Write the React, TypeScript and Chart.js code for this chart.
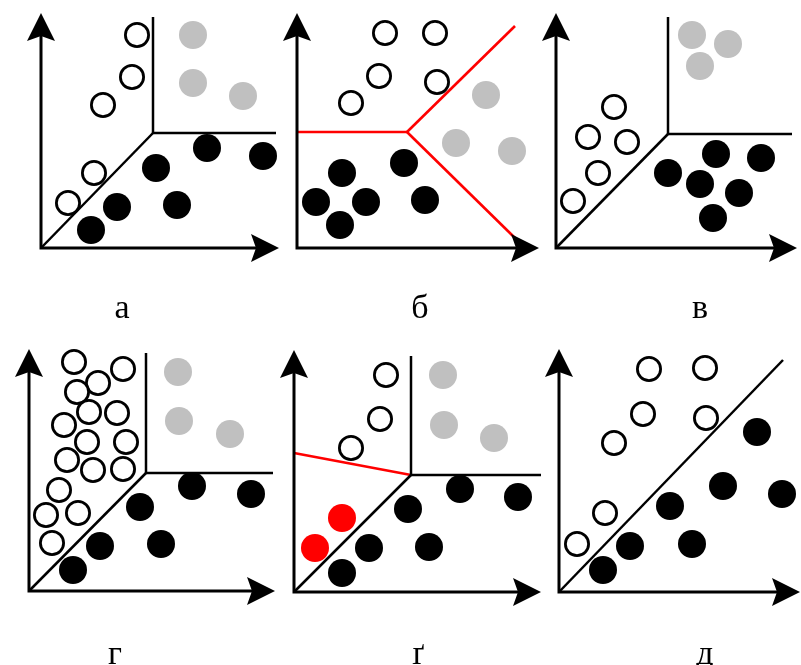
import React, { useEffect, useRef } from "react";
import { Chart, registerables } from "chart.js";

Chart.register(...registerables);

const W = 801;
const H = 665;

type P = [number, number];

// ---- panel а ----
const aWhite: P[] = [[137, 35], [132, 77], [103, 105], [94, 173], [68, 203]];
const aGrey: P[] = [[193, 35], [193, 83], [243, 96]];
const aBlack: P[] = [[207, 148], [263, 156], [156, 168], [117, 207], [177, 205], [91, 230]];
// ---- panel б ----
const bWhite: P[] = [[385, 33], [435, 33], [379, 76], [437, 82], [351, 103]];
const bGrey: P[] = [[486, 95], [456, 143], [512, 151]];
const bBlack: P[] = [[404, 163], [342, 173], [316, 202], [366, 202], [425, 200], [340, 225]];
// ---- panel в ----
const vWhite: P[] = [[614, 107], [588, 137], [627, 142], [598, 173], [573, 201]];
const vGrey: P[] = [[692, 35], [728, 44], [700, 66]];
const vBlack: P[] = [[716, 154], [761, 158], [668, 173], [700, 184], [739, 193], [713, 218]];
// ---- panel г ----
const gWhite: P[] = [
  [74, 362], [123, 369], [98, 383], [77, 392], [89, 412], [117, 413], [64, 425], [87, 442],
  [126, 442], [67, 460], [93, 470], [123, 469], [59, 490], [46, 515], [78, 513], [52, 543],
];
const gGrey: P[] = [[178, 372], [179, 421], [230, 434]];
const gBlack: P[] = [[192, 486], [251, 494], [140, 507], [100, 546], [161, 544], [73, 570]];
// ---- panel ґ ----
const g2White: P[] = [[386, 375], [380, 419], [351, 448]];
const g2Grey: P[] = [[443, 375], [444, 425], [494, 438]];
const g2Red: P[] = [[342, 518], [315, 548]];
const g2Black: P[] = [[460, 489], [518, 497], [408, 509], [369, 548], [429, 547], [342, 573]];
// ---- panel д ----
const dWhite: P[] = [[649, 369], [705, 368], [643, 414], [706, 418], [614, 443], [605, 513], [577, 544]];
const dBlack: P[] = [[757, 432], [723, 486], [782, 494], [670, 506], [630, 546], [692, 544], [603, 570]];

// axes: [originX, originY, yArrowTipY, xArrowTipX]
const axes: number[][] = [
  [41, 248, 13, 279],
  [297, 248, 13, 539],
  [556, 248, 13, 797],
  [29, 591, 349, 275],
  [294, 592, 350, 541],
  [559, 592, 349, 800],
];

// black boundary segments [x1, y1, x2, y2]
const blackSegments: number[][] = [
  [41, 248, 153, 133], [153, 133, 153, 17], [153, 133, 276, 133],
  [556, 248, 668, 134], [668, 134, 668, 17], [668, 134, 792, 134],
  [29, 591, 146, 473], [146, 473, 146, 353], [146, 473, 273, 473],
  [294, 592, 411, 475], [411, 475, 411, 356], [411, 475, 541, 475],
  [559, 592, 783, 360],
];

// red boundary segments
const redSegments: number[][] = [
  [298, 132, 407, 132], [407, 132, 515, 26], [407, 132, 515, 238],
  [294, 453, 411, 475],
];

const panelLabels = ["а", "б", "в", "г", "ґ", "д"];
const labelX = [122, 420, 700, 115, 418, 705];
const labelY = [318, 318, 318, 664, 664, 664];

const ARROW_LEN = 28;
const ARROW_HALF = 14;
const ARROW_NOTCH = 5;

const toXY = (pts: P[]) => pts.map(([x, y]) => ({ x, y }));

function circles(pts: P[], fill: string, border: string, r: number, bw: number) {
  return {
    data: toXY(pts),
    showLine: false,
    pointRadius: r,
    pointHoverRadius: r,
    pointBackgroundColor: fill,
    pointBorderColor: border,
    pointBorderWidth: bw,
    pointHoverBorderWidth: bw,
    clip: false,
  };
}

function segment(s: number[], color: string, width: number) {
  return {
    data: [{ x: s[0], y: s[1] }, { x: s[2], y: s[3] }],
    showLine: true,
    borderColor: color,
    borderWidth: width,
    pointRadius: 0,
    pointHoverRadius: 0,
    tension: 0,
    borderCapStyle: "butt",
    clip: false,
  };
}

function axisLine(a: number[]) {
  const [ox, oy, ty, tx] = a;
  const back = ARROW_LEN - ARROW_NOTCH - 2;
  return {
    data: [
      { x: ox, y: ty + back },
      { x: ox, y: oy },
      { x: tx - back, y: oy },
    ],
    showLine: true,
    borderColor: "#000",
    borderWidth: 3,
    pointRadius: 0,
    pointHoverRadius: 0,
    tension: 0,
    borderJoinStyle: "miter",
    borderCapStyle: "butt",
    clip: false,
  };
}

const arrowPlugin = {
  id: "arrowHeads",
  afterDatasetsDraw(chart: any) {
    const ctx = chart.ctx;
    const xs = chart.scales.x;
    const ys = chart.scales.y;
    const draw = (tx: number, ty: number, dx: number, dy: number) => {
      const nx = -dy;
      const ny = dx;
      ctx.beginPath();
      ctx.moveTo(tx, ty);
      ctx.lineTo(tx - ARROW_LEN * dx + ARROW_HALF * nx, ty - ARROW_LEN * dy + ARROW_HALF * ny);
      ctx.lineTo(tx - (ARROW_LEN - ARROW_NOTCH) * dx, ty - (ARROW_LEN - ARROW_NOTCH) * dy);
      ctx.lineTo(tx - ARROW_LEN * dx - ARROW_HALF * nx, ty - ARROW_LEN * dy - ARROW_HALF * ny);
      ctx.closePath();
      ctx.fill();
    };
    ctx.save();
    ctx.fillStyle = "#000";
    axes.forEach(([ox, oy, ty, tx]) => {
      const px = xs.getPixelForValue(ox);
      draw(px, ys.getPixelForValue(ty), 0, -1);
      draw(xs.getPixelForValue(tx), ys.getPixelForValue(oy), 1, 0);
    });
    ctx.restore();
  },
};

const labelPlugin = {
  id: "panelLabels",
  afterDraw(chart: any) {
    const ctx = chart.ctx;
    const xs = chart.scales.x;
    const ys = chart.scales.y;
    ctx.save();
    ctx.fillStyle = "#000";
    ctx.font = '34px "Liberation Serif", "DejaVu Serif", serif';
    ctx.textAlign = "center";
    ctx.textBaseline = "alphabetic";
    panelLabels.forEach((t, i) => {
      ctx.fillText(t, xs.getPixelForValue(labelX[i]), ys.getPixelForValue(labelY[i]));
    });
    ctx.restore();
  },
};

export default function App() {
  const ref = useRef<HTMLCanvasElement | null>(null);

  useEffect(() => {
    document.body.style.margin = "0";
    const canvas = ref.current;
    if (!canvas) return;

    const WHITE_R = 11.6;
    const WHITE_BW = 2.8;
    const FILL_R = 14;
    const grey = "#c0c0c0";

    const lineSets: any[] = [
      ...axes.map(axisLine),
      ...blackSegments.map((s) => segment(s, "#000", 2.5)),
      ...redSegments.map((s) => segment(s, "#ff0000", 2.6)),
    ];

    const whites = [aWhite, bWhite, vWhite, gWhite, g2White, dWhite];
    const greys = [aGrey, bGrey, vGrey, gGrey, g2Grey];
    const blacks = [aBlack, bBlack, vBlack, gBlack, g2Black, dBlack];

    const pointSets: any[] = [
      ...whites.map((p) => circles(p, "#ffffff", "#000000", WHITE_R, WHITE_BW)),
      ...greys.map((p) => circles(p, grey, grey, FILL_R, 0)),
      ...blacks.map((p) => circles(p, "#000000", "#000000", FILL_R, 0)),
      circles(g2Red, "#ff0000", "#ff0000", FILL_R, 0),
    ];

    const chart = new Chart(canvas, {
      type: "scatter",
      data: { datasets: [...lineSets, ...pointSets] },
      options: {
        animation: false,
        responsive: false,
        maintainAspectRatio: false,
        events: [],
        layout: { padding: 0, autoPadding: false },
        plugins: {
          legend: { display: false },
          tooltip: { enabled: false },
          title: { display: false },
        },
        scales: {
          x: { type: "linear", min: 0, max: W, display: false },
          y: { type: "linear", min: 0, max: H, reverse: true, display: false },
        },
      },
      plugins: [arrowPlugin, labelPlugin],
    } as any);

    return () => chart.destroy();
  }, []);

  return (
    <div style={{ width: W, height: H, background: "#fff" }}>
      <canvas ref={ref} width={W} height={H} style={{ display: "block", width: W, height: H }} />
    </div>
  );
}
